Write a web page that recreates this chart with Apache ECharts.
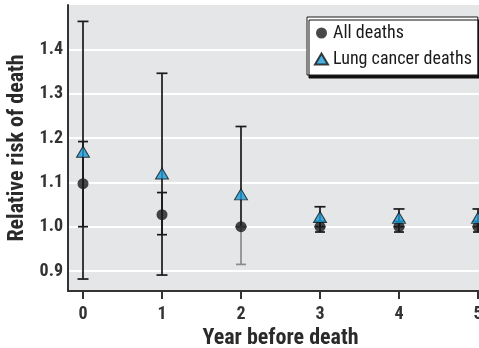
<!DOCTYPE html>
<html>
<head>
<meta charset="utf-8">
<script src="https://cdn.jsdelivr.net/npm/echarts@6/dist/echarts.min.js"></script>
<style>
  html, body { margin: 0; padding: 0; background: #ffffff; }
  #chart { width: 479px; height: 348px; }
</style>
</head>
<body>
<div id="chart"></div>
<script>
// Years before death (x positions)
const years = [0, 1, 2, 3, 4, 5];

// Relative risk, all deaths, with 95% CI
const allDeaths = [1.097, 1.027, 1.0, 1.0, 1.0, 1.0];
const allLow    = [1.0, 0.982, 0.915, 0.988, 0.988, 0.988];
const allHigh   = [1.192, 1.077, 1.0, 1.012, 1.012, 1.012];

// Relative risk, lung cancer deaths, with 95% CI
const lungDeaths = [1.169, 1.12, 1.073, 1.022, 1.02, 1.02];
const lungLow    = [0.882, 0.891, 1.0, 1.0, 1.0, 1.0];
const lungHigh   = [1.463, 1.346, 1.226, 1.045, 1.04, 1.04];

// Tick labels
const yTicks = [0.9, 1.0, 1.1, 1.2, 1.3, 1.4];
const xTicks = [0, 1, 2, 3, 4, 5];

const FONT = '"Roboto Condensed", "DejaVu Sans Condensed", sans-serif';

function errorRows(low, high) {
  return years.map((x, i) => [x, low[i], high[i]]);
}

function renderErrorBar(color, capHalf) {
  return function (params, api) {
    const x = api.value(0);
    const p1 = api.coord([x, api.value(1)]);
    const p2 = api.coord([x, api.value(2)]);
    const style = { stroke: color, lineWidth: 1.7 };
    return {
      type: 'group',
      children: [
        { type: 'line', shape: { x1: p1[0], y1: p1[1], x2: p2[0], y2: p2[1] }, style },
        { type: 'line', shape: { x1: p1[0] - capHalf, y1: p1[1], x2: p1[0] + capHalf, y2: p1[1] }, style },
        { type: 'line', shape: { x1: p2[0] - capHalf, y1: p2[1], x2: p2[0] + capHalf, y2: p2[1] }, style }
      ]
    };
  };
}

const chart = echarts.init(document.getElementById('chart'), null, { renderer: 'canvas' });

chart.setOption({
  animation: false,
  backgroundColor: '#ffffff',
  grid: {
    left: 68, top: 5, right: -14, bottom: 57,
    outerBoundsMode: 'none',
    containLabel: false,
    show: true, backgroundColor: '#e5e6e8', borderWidth: 0
  },
  legend: {
    orient: 'vertical',
    left: 307, top: 17,
    padding: [7, 6, 7, 7],
    itemGap: 8,
    itemWidth: 13, itemHeight: 11,
    backgroundColor: '#ffffff',
    borderColor: '#1a1a1a', borderWidth: 1,
    shadowColor: '#111111', shadowBlur: 0, shadowOffsetX: 2, shadowOffsetY: 3,
    textStyle: { fontFamily: FONT, fontSize: 18, color: '#1a1a1a', fontWeight: 'normal' },
    data: [
      { name: 'All deaths', icon: 'circle' },
      { name: 'Lung cancer deaths', icon: 'triangle' }
    ]
  },
  xAxis: {
    type: 'value',
    min: -0.19, max: 5.19,
    name: 'Year before death',
    nameLocation: 'middle',
    nameGap: 35,
    nameTextStyle: { fontFamily: FONT, fontSize: 22, fontWeight: 'bold', color: '#2a2a2a' },
    axisLine: { show: true, onZero: false, lineStyle: { color: '#333', width: 2 } },
    axisTick: { show: true, length: 8, customValues: xTicks, lineStyle: { color: '#333', width: 2 } },
    axisLabel: {
      customValues: xTicks, margin: 14,
      fontFamily: FONT, fontSize: 18, fontWeight: 'bold', color: '#333'
    },
    splitLine: { show: false }
  },
  yAxis: {
    type: 'value',
    min: 0.855, max: 1.5,
    name: 'Relative risk of death',
    nameLocation: 'middle',
    nameGap: 32,
    nameTextStyle: { fontFamily: FONT, fontSize: 22, fontWeight: 'bold', color: '#2a2a2a' },
    axisLine: { show: true, onZero: false, lineStyle: { color: '#333', width: 2 } },
    axisTick: { show: false, customValues: yTicks },
    axisLabel: {
      customValues: yTicks, margin: 5,
      formatter: v => v.toFixed(1),
      fontFamily: FONT, fontSize: 18, fontWeight: 'bold', color: '#333'
    },
    splitLine: { show: true, lineStyle: { color: '#ffffff', width: 2 } }
  },
  series: [
    {
      name: 'Lung CI', type: 'custom', z: 2,
      renderItem: renderErrorBar('#1a1a1a', 5.5),
      data: errorRows(lungLow, lungHigh)
    },
    {
      name: 'All CI', type: 'custom', z: 3,
      renderItem: function (params, api) {
        const color = api.value(0) === 2 ? '#8a8a8a' : '#1a1a1a';
        return renderErrorBar(color, 5)(params, api);
      },
      data: errorRows(allLow, allHigh)
    },
    {
      name: 'All deaths', type: 'scatter', z: 4,
      symbol: 'circle', symbolSize: 11,
      itemStyle: { color: '#1a1a1a' },
      data: years.map((x, i) => [x, allDeaths[i]])
    },
    {
      name: 'Lung cancer deaths', type: 'scatter', z: 5,
      symbol: 'triangle', symbolSize: [13, 11],
      itemStyle: { color: '#1b9bd7', borderColor: '#111', borderWidth: 1 },
      data: years.map((x, i) => [x, lungDeaths[i]])
    }
  ]
});
</script>
</body>
</html>
